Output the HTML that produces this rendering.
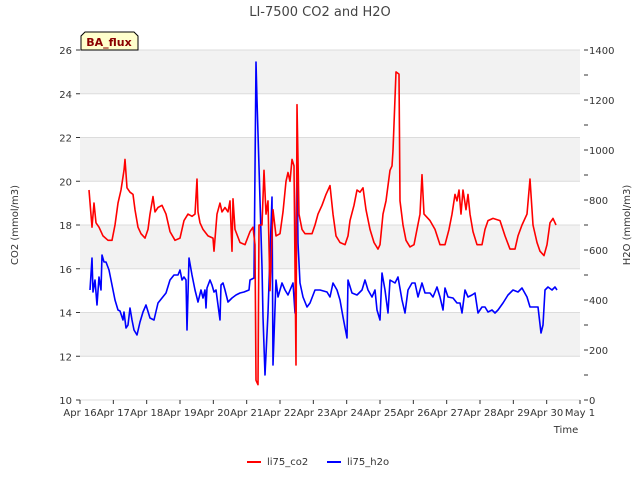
<!DOCTYPE html>
<html><head><meta charset="utf-8"><style>
body{margin:0;background:#fff;font-family:"Liberation Sans",sans-serif}
svg text{font-family:"DejaVu Sans","Liberation Sans",sans-serif}
</style></head><body>
<svg id="c" width="640" height="480" xmlns="http://www.w3.org/2000/svg"></svg>
<script>
const co2T=[0.27,0.36,0.42,0.48,0.57,0.69,0.84,0.96,1.05,1.14,1.23,1.32,1.35,1.41,1.5,1.59,1.65,1.74,1.83,1.95,2.04,2.1,2.19,2.25,2.34,2.46,2.58,2.7,2.85,3.0,3.12,3.24,3.36,3.45,3.51,3.54,3.6,3.69,3.84,3.99,4.02,4.11,4.2,4.26,4.35,4.44,4.5,4.56,4.59,4.65,4.8,4.95,5.1,5.19,5.25,5.28,5.34,5.37,5.46,5.52,5.58,5.64,5.7,5.79,5.88,6.0,6.09,6.18,6.24,6.3,6.36,6.42,6.48,6.51,6.57,6.66,6.75,6.96,7.05,7.14,7.26,7.38,7.5,7.59,7.68,7.8,7.95,8.04,8.1,8.22,8.31,8.4,8.49,8.58,8.7,8.82,8.94,9.0,9.09,9.18,9.24,9.3,9.36,9.39,9.48,9.57,9.6,9.69,9.78,9.9,10.02,10.11,10.2,10.26,10.32,10.5,10.65,10.8,10.95,11.07,11.16,11.25,11.31,11.37,11.43,11.49,11.58,11.64,11.7,11.79,11.91,12.06,12.15,12.24,12.39,12.6,12.75,12.9,13.05,13.14,13.26,13.41,13.5,13.59,13.71,13.8,13.92,14.01,14.1,14.19,14.28];
const co2V=[19.6,17.9,19,18.1,17.9,17.5,17.3,17.3,18,19,19.6,20.5,21,19.7,19.5,19.4,18.7,17.9,17.6,17.4,17.8,18.5,19.3,18.6,18.8,18.9,18.5,17.7,17.3,17.4,18.2,18.5,18.4,18.5,20.1,18.6,18.1,17.8,17.5,17.4,16.8,18.5,19,18.6,18.8,18.6,19.1,16.8,19.2,17.8,17.2,17.1,17.7,17.9,17.1,10.9,10.7,18,18,20.5,18.5,19.1,15,18.7,17.5,17.6,18.6,20,20.4,20,21,20.7,11.6,23.5,18.5,17.8,17.6,17.6,18,18.5,18.9,19.4,19.8,18.5,17.5,17.2,17.1,17.5,18.2,18.9,19.6,19.5,19.7,18.7,17.8,17.2,16.9,17.1,18.5,19.1,19.8,20.5,20.7,21.4,25,24.9,19.1,18,17.3,17,17.1,17.8,18.5,20.3,18.5,18.2,17.8,17.1,17.1,17.8,18.5,19.4,19.1,19.6,18.5,19.6,18.7,19.4,18.5,17.7,17.1,17.1,17.8,18.2,18.3,18.2,17.5,16.9,16.9,17.5,18,18.5,20.1,18,17.2,16.8,16.6,17.1,18.1,18.3,18];
const h2oT=[0.3,0.36,0.39,0.45,0.51,0.57,0.63,0.66,0.72,0.78,0.87,0.96,1.05,1.14,1.2,1.29,1.32,1.38,1.44,1.5,1.56,1.62,1.71,1.8,1.89,1.98,2.1,2.22,2.34,2.46,2.58,2.7,2.82,2.94,3.0,3.06,3.12,3.18,3.21,3.27,3.36,3.45,3.54,3.63,3.69,3.75,3.78,3.81,3.9,3.96,4.02,4.08,4.14,4.2,4.23,4.29,4.35,4.44,4.56,4.68,4.8,4.92,5.07,5.1,5.22,5.28,5.31,5.46,5.49,5.55,5.64,5.76,5.79,5.88,5.94,6.06,6.15,6.24,6.39,6.45,6.51,6.54,6.6,6.69,6.81,6.9,7.05,7.2,7.41,7.5,7.59,7.71,7.8,7.89,8.01,8.04,8.16,8.31,8.46,8.55,8.64,8.76,8.85,8.91,9.0,9.06,9.15,9.24,9.3,9.45,9.54,9.66,9.75,9.84,9.96,10.05,10.14,10.26,10.35,10.5,10.59,10.71,10.8,10.89,10.95,11.04,11.19,11.31,11.4,11.46,11.55,11.64,11.76,11.85,11.94,12.06,12.15,12.24,12.36,12.45,12.54,12.69,12.84,12.99,13.14,13.26,13.41,13.5,13.65,13.74,13.83,13.89,13.95,14.04,14.16,14.25,14.31];
const h2oV=[440,568,432,480,380,492,440,580,552,552,520,460,400,360,356,320,352,288,300,368,320,280,260,312,352,380,328,320,388,408,428,480,500,500,520,480,492,480,280,568,500,440,392,440,408,440,368,448,480,460,432,440,380,320,460,468,440,392,408,420,428,432,440,480,488,1352,1200,532,332,100,348,812,140,480,412,468,440,420,468,348,932,628,468,412,372,388,440,440,432,412,468,440,400,332,248,480,428,420,440,480,440,412,440,360,320,508,440,348,480,468,492,400,348,440,468,468,412,468,428,428,412,452,412,360,448,412,408,388,388,348,440,412,420,428,348,372,372,352,360,348,360,388,420,440,432,448,412,372,372,372,268,300,440,452,440,452,440];
const xTicks=["Apr 16","Apr 17","Apr 18","Apr 19","Apr 20","Apr 21","Apr 22","Apr 23","Apr 24","Apr 25","Apr 26","Apr 27","Apr 28","Apr 29","Apr 30","May 1"];
const yLeftTicks=[10,12,14,16,18,20,22,24,26];
const yRightTicks=[0,200,400,600,800,1000,1200,1400];

const L=80,R=580,T=50,B=400;
const sx=t=>L+(t/15)*(R-L);
const syL=v=>B-(v-10)/16*(B-T);
const syR=v=>B-v/1400*(B-T);
const svg=document.getElementById('c');
const NS='http://www.w3.org/2000/svg';
function mk(tag,attrs,parent,text){const e=document.createElementNS(NS,tag);for(const k in attrs)e.setAttribute(k,attrs[k]);if(text!==undefined)e.textContent=text;(parent||svg).appendChild(e);return e;}

// background bands
for(let i=0;i<yLeftTicks.length-1;i+=2){
  const r=mk('rect',{x:L,y:syL(yLeftTicks[i+1]+0),width:R-L,height:syL(yLeftTicks[i])-syL(yLeftTicks[i+1]),fill:(i%4===0)?'#f2f2f2':'#f2f2f2'});
}
// redo bands: gray for 12-14,16-18,20-22,24-26
svg.innerHTML='';
const pl=mk('rect',{x:L,y:T,width:R-L,height:B-T,fill:'#fff'});


for(let i=1;i<yLeftTicks.length-1;i+=2){
  const r=mk('rect',{x:L,y:syL(yLeftTicks[i+1]),width:R-L,height:syL(yLeftTicks[i])-syL(yLeftTicks[i+1]),fill:'#f2f2f2'});
  
  
}
yLeftTicks.forEach(v=>{
  const g=mk('line',{x1:L,x2:R,y1:syL(v),y2:syL(v),stroke:'#dcdcdc','stroke-width':1});
  
  
  const t=mk('text',{x:L-8,y:syL(v)+4,'text-anchor':'end','font-size':10,fill:'#333'},null,String(v));
  
  
  mk('line',{x1:L-4,x2:L,y1:syL(v),y2:syL(v),stroke:'#333'});
});
for(let v=0;v<=1400;v+=100){mk('line',{x1:R+4,x2:R+8,y1:syR(v),y2:syR(v),stroke:'#333'});}
yRightTicks.forEach(v=>{
  const t=mk('text',{x:R+9,y:syR(v)+4,'font-size':10,fill:'#333'},null,String(v));
  
  
});
xTicks.forEach((s,i)=>{
  mk('line',{x1:sx(i),x2:sx(i),y1:B,y2:B+4,stroke:'#333'});
  const t=mk('text',{x:sx(i),y:B+16,'text-anchor':'middle','font-size':10,fill:'#333'},null,s);
  
  
});
function series(T_,V_,sy,col,name){
  const d=T_.map((t,i)=>(i?'L':'M')+sx(t).toFixed(1)+','+sy(V_[i]).toFixed(1)).join('');
  const p=mk('path',{d:d,fill:'none',stroke:col,'stroke-width':1.6,'stroke-linejoin':'round'});
  
  
}
series(h2oT,h2oV,syR,'#0000ff','h2o-line');
series(co2T,co2V,syL,'#ff0000','co2-line');

let e;
e=mk('text',{x:320,y:16,'text-anchor':'middle','font-size':13,fill:'#444'},null,'LI-7500 CO2 and H2O');


e=mk('text',{x:566,y:433,'text-anchor':'middle','font-size':10,fill:'#333'},null,'Time');


e=mk('text',{x:18,y:225,'text-anchor':'middle','font-size':10,fill:'#333',transform:'rotate(-90 18 225)'},null,'CO2 (mmol/m3)');


e=mk('text',{x:630,y:225,'text-anchor':'middle','font-size':10,fill:'#333',transform:'rotate(-90 630 225)'},null,'H2O (mmol/m3)');


const fb=mk('g',{});


mk('path',{d:'M81,50 L81,36 L85,32 L134,32 L138,36 L138,50 Z',fill:'#ffffcc',stroke:'#000','stroke-width':1},fb);
mk('text',{x:109,y:46,'text-anchor':'middle','font-size':11,'font-weight':'bold',fill:'#8b0000'},fb,'BA_flux');
const lg=mk('g',{});


e=mk('line',{x1:247,x2:261,y1:462,y2:462,stroke:'#ff0000','stroke-width':2},lg);


mk('text',{x:267,y:465,'font-size':10,fill:'#333'},lg,'li75_co2');
e=mk('line',{x1:327,x2:341,y1:462,y2:462,stroke:'#0000ff','stroke-width':2},lg);


mk('text',{x:347,y:465,'font-size':10,fill:'#333'},lg,'li75_h2o');
</script>
</body></html>
